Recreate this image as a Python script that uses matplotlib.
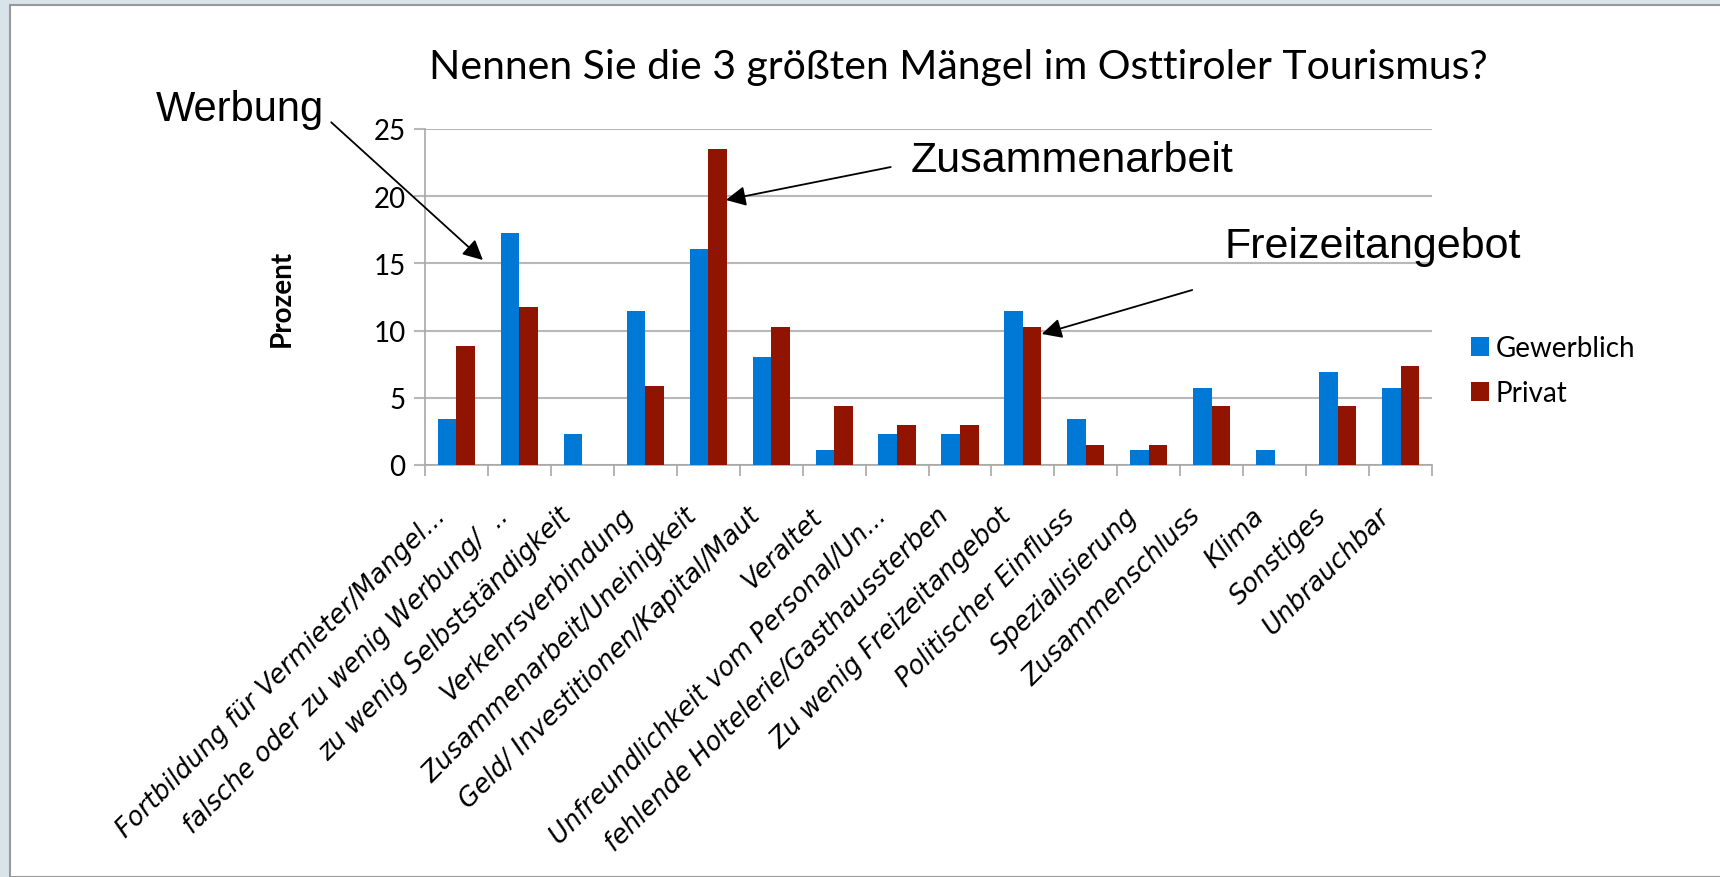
import matplotlib.pyplot as plt
import numpy as np
from matplotlib.patches import Rectangle
from matplotlib.transforms import ScaledTranslation

plt.close('all')

categories = [
    "Fortbildung für Vermieter/Mangel...",
    "falsche oder zu wenig Werbung/  ..",
    "zu wenig Selbstständigkeit",
    "Verkehrsverbindung",
    "Zusammenarbeit/Uneinigkeit",
    "Geld/ Investitionen/Kapital/Maut",
    "Veraltet",
    "Unfreundlichkeit vom Personal/Un...",
    "fehlende Holtelerie/Gasthaussterben",
    "Zu wenig Freizeitangebot",
    "Politischer Einfluss",
    "Spezialisierung",
    "Zusammenschluss",
    "Klima",
    "Sonstiges",
    "Unbrauchbar",
]

gewerblich = [3.45, 17.24, 2.30, 11.49, 16.09, 8.05, 1.15, 2.30,
              2.30, 11.49, 3.45, 1.15, 5.75, 1.15, 6.90, 5.75]
privat = [8.82, 11.76, 0.0, 5.88, 23.53, 10.29, 4.41, 2.94,
          2.94, 10.29, 1.47, 1.47, 4.41, 0.0, 4.41, 7.35]

blue = '#0079d6'
red = '#911400'
grid_col = '#b8b8b8'

fig = plt.figure(figsize=(17.2, 8.78), dpi=100, facecolor='#d9e4ea')

# white panel with grey edge (left/top)
fig.patches.append(Rectangle((10 / 1720, 0), 1.0, 872 / 878, transform=fig.transFigure,
                             facecolor='white', edgecolor='#999999', lw=1.5, zorder=-5))

ax = fig.add_axes([425 / 1720, 412 / 878, 1007 / 1720, 336 / 878])
ax.set_facecolor('none')

x = np.arange(len(categories))
w = 0.295
ax.bar(x - w / 2, gewerblich, w, color=blue, label='Gewerblich', zorder=3)
ax.bar(x + w / 2, privat, w, color=red, label='Privat', zorder=3)

ax.set_xlim(-0.5, len(categories) - 0.5)
ax.set_ylim(0, 25)
ax.set_yticks([0, 5, 10, 15, 20, 25])
ax.yaxis.grid(True, color=grid_col, lw=1.5, zorder=0)

for s in ['top', 'right']:
    ax.spines[s].set_visible(False)
for s in ['left', 'bottom']:
    ax.spines[s].set_color('#a8a8a8')
    ax.spines[s].set_linewidth(1.2)

# ticks between the groups
ax.set_xticks(np.arange(-0.5, len(categories), 1.0), minor=True)
ax.set_xticks(x)
ax.tick_params(axis='x', which='minor', length=8, color='#a8a8a8', width=1.2)
ax.tick_params(axis='x', which='major', length=0, pad=27)
ax.tick_params(axis='y', length=8, color=grid_col, width=1.5, pad=6)

ax.set_xticklabels(categories, rotation=45, ha='right', rotation_mode='anchor',
                   fontsize=18.5, fontfamily='DejaVu Sans', fontstyle='oblique')
shift = ScaledTranslation(-0.24, 0, fig.dpi_scale_trans)
for lab in ax.get_xticklabels():
    lab.set_transform(lab.get_transform() + shift)
for lab in ax.get_yticklabels():
    lab.set_fontfamily('Lato')
    lab.set_fontsize(20)

fig.text(282 / 1720, 1 - 298 / 878, 'Prozent', rotation=90, ha='center', va='center',
         fontsize=20, fontweight='bold', fontfamily='Lato')

fig.text(958 / 1720, 1 - 68 / 878, 'Nennen Sie die 3 größten Mängel im Osttiroler Tourismus?',
         ha='center', va='center', fontsize=29.5, fontfamily='Lato')

leg = ax.legend(loc='upper left', bbox_to_anchor=(1446 / 1720, 1 - 311 / 878),
                bbox_transform=fig.transFigure, frameon=False,
                prop={'family': 'Lato', 'size': 20}, handlelength=0.65, handleheight=0.65,
                handletextpad=0.25, labelspacing=0.7)

# annotations with arrows
akw = dict(arrowstyle='-|>', color='black', lw=1.3, mutation_scale=30, shrinkA=0, shrinkB=0)

ax.text(-2.10, 26.5, 'Werbung', ha='right', va='center', fontsize=30,
        fontfamily='Liberation Sans', clip_on=False)
ax.annotate('', xy=(0.42, 15.25), xytext=(-1.99, 25.5), arrowprops=akw, annotation_clip=False)

ax.text(7.21, 22.7, 'Zusammenarbeit', ha='left', va='center', fontsize=31,
        fontfamily='Liberation Sans', clip_on=False)
ax.annotate('', xy=(4.28, 19.72), xytext=(6.90, 22.17), arrowprops=akw, annotation_clip=False)

ax.text(12.21, 16.3, 'Freizeitangebot', ha='left', va='center', fontsize=31,
        fontfamily='Liberation Sans', clip_on=False)
ax.annotate('', xy=(9.30, 9.75), xytext=(11.69, 13.02), arrowprops=akw, annotation_clip=False)

plt.savefig('out.png', dpi=100, facecolor=fig.get_facecolor())
